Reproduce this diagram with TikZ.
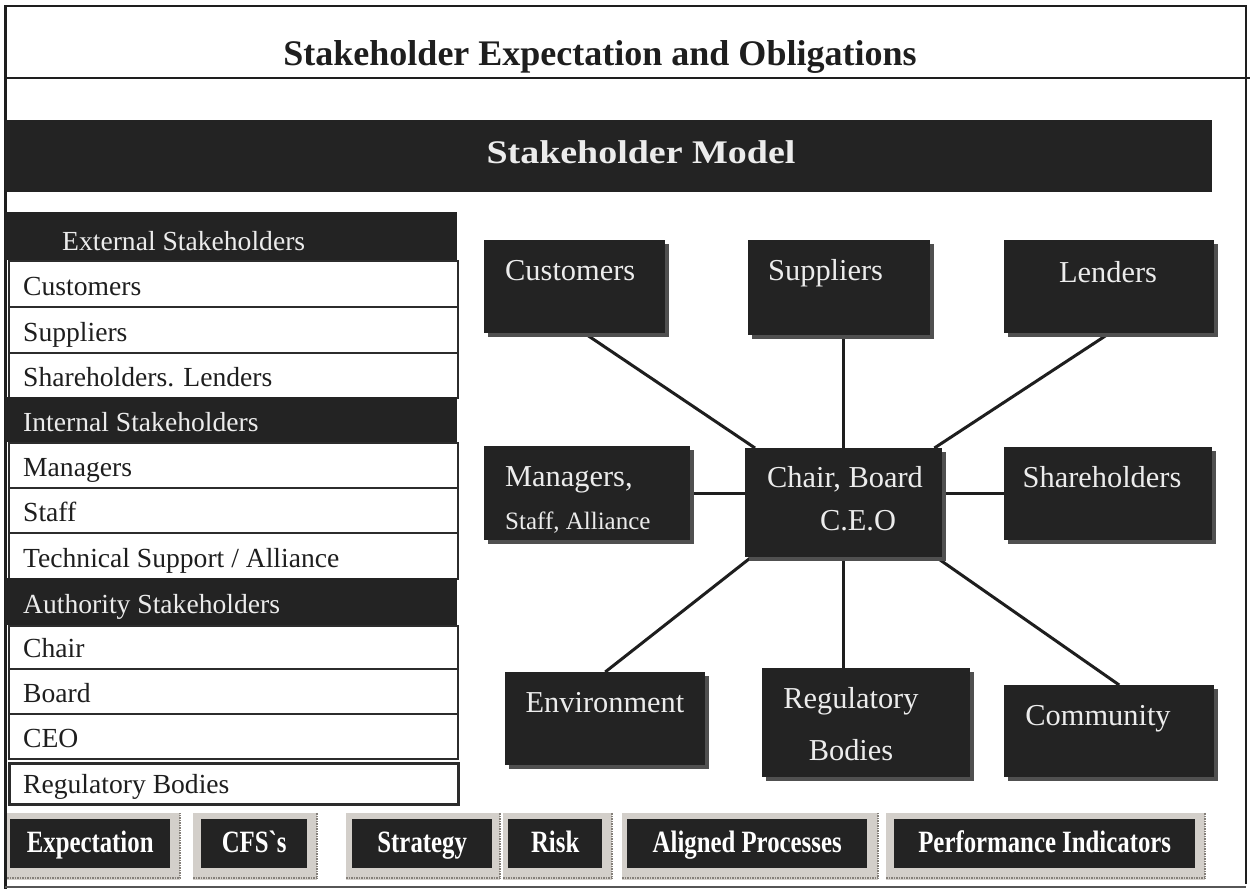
\documentclass[tikz,border=0pt]{standalone}
\usepackage{fontspec}
\setmainfont{Liberation Serif}
\newfontfamily\btnfont[FakeStretch=0.8]{Liberation Serif}
\newfontfamily\widefont[FakeStretch=1.15]{Liberation Serif}
\usetikzlibrary{backgrounds,shadows,calc}

\definecolor{ink}{HTML}{1E1E1E}
\definecolor{boxfill}{HTML}{232323}
\definecolor{boxshade}{HTML}{505050}
\definecolor{rule}{HTML}{2C2C2C}
\definecolor{bevel}{HTML}{D3CFCA}
\definecolor{bevelrim}{HTML}{85807A}
\definecolor{soft}{HTML}{ECECEC}

\newcommand{\setfs}[1]{\fontsize{#1}{#1}\selectfont}

\tikzset{
  darkbox/.style={fill=boxfill, draw=none, anchor=north west, inner sep=0pt,
    drop shadow={shadow xshift=4pt, shadow yshift=-4pt, fill=boxshade, opacity=1}},
  boxtext/.style={text=soft, font=\setfs{30.4}, inner sep=0pt},
  listrow/.style={fill=white, draw=rule, line width=1.5pt, anchor=north west,
    minimum width=449pt, inner sep=0pt},
  listhead/.style={fill=boxfill, draw=none, anchor=north west,
    minimum width=452pt, inner sep=0pt},
  listtext/.style={font=\setfs{27.6}, text=ink, anchor=base west, inner sep=0pt},
  headtext/.style={listtext, text=soft},
  conn/.style={draw=ink, line width=3pt},
  btn/.style={fill=boxfill, text=white, font=\btnfont\bfseries\setfs{31}, inner sep=0pt,
    anchor=north west, minimum height=49pt, text height=22pt, text depth=5pt},
}

% bevelled button: name, outer x1, outer x2, inner x1, inner x2, label
\newcommand{\stkbtn}[6]{%
  \fill[bevel] (#2,813) rectangle (#3,880);
  \draw[bevelrim, line width=2pt, dash pattern=on 1.5pt off 1pt] (#2,878) -- (#3,878) -- (#3,813);
  \node[btn, minimum width={(#5-#4)*1pt}] (#1) at (#4,819) {#6};
}

\begin{document}
\begin{tikzpicture}[x=1pt,y=-1pt]
\useasboundingbox (0,0) rectangle (1252,889);
\begin{pgfonlayer}{background}
  \fill[white] (0,0) rectangle (1252,889);
\end{pgfonlayer}

% outer frame and title band
\draw[ink, line width=3pt] (5,5) -- (5,889);
\draw[ink, line width=2pt] (5,6) -- (1246,6) -- (1246,884);
\draw[ink, line width=2pt] (5,78) -- (1250,78);
\draw[ink!75, line width=2pt] (5,887) -- (1246,887);

\node[font=\bfseries\setfs{36}, text=ink, anchor=base, inner sep=0pt] (title)
  at (600,65) {Stakeholder Expectation and Obligations};

% model banner
\node[fill=boxfill, anchor=north west, minimum width=1207pt, minimum height=72pt,
  inner sep=0pt] (banner) at (5,120) {};
\node[font=\widefont\bfseries\setfs{33}, text=soft, anchor=base, inner sep=0pt] (bannerT)
  at (641,163) {Stakeholder Model};

% stakeholder list
\node[listhead, minimum height=48pt] (hExt) at (5,212) {};
\node[headtext] (hExtT) at (62,250) {External Stakeholders};
\node[listrow, minimum height=46pt] (rCus) at (8,260) {};
\node[listtext] (rCusT) at (23,295) {Customers};
\node[listrow, minimum height=46pt] (rSup) at (8,306) {};
\node[listtext] (rSupT) at (23,341) {Suppliers};
\node[listrow, minimum height=45pt] (rShl) at (8,352) {};
\node[listtext] (rShlT) at (23,386) {Shareholders. Lenders};
\node[listhead, minimum height=45pt] (hInt) at (5,397) {};
\node[headtext] (hIntT) at (23,431) {Internal Stakeholders};
\node[listrow, minimum height=45pt] (rMgr) at (8,442) {};
\node[listtext] (rMgrT) at (23,476) {Managers};
\node[listrow, minimum height=45pt] (rStf) at (8,487) {};
\node[listtext] (rStfT) at (23,521) {Staff};
\node[listrow, minimum height=46pt] (rTec) at (8,532) {};
\node[listtext] (rTecT) at (23,567) {Technical Support / Alliance};
\node[listhead, minimum height=47pt] (hAut) at (5,578) {};
\node[headtext] (hAutT) at (23,613) {Authority Stakeholders};
\node[listrow, minimum height=43pt] (rCha) at (8,625) {};
\node[listtext] (rChaT) at (23,657) {Chair};
\node[listrow, minimum height=45pt] (rBrd) at (8,668) {};
\node[listtext] (rBrdT) at (23,702) {Board};
\node[listrow, minimum height=45pt] (rCeo) at (8,713) {};
\node[listtext] (rCeoT) at (23,747) {CEO};
\node[listrow, line width=2.5pt, minimum height=41pt] (rReg) at (8,762) {};
\node[listtext] (rRegT) at (23,793) {Regulatory Bodies};

% stakeholder map boxes
\node[darkbox, minimum width=181pt, minimum height=93pt] (cust) at (484,240) {};
\node[darkbox, minimum width=182pt, minimum height=95pt] (supp) at (748,240) {};
\node[darkbox, minimum width=210pt, minimum height=93pt] (lend) at (1004,240) {};
\node[darkbox, minimum width=206pt, minimum height=94pt] (mgr) at (484,446) {};
\node[darkbox, minimum width=197pt, minimum height=109pt] (chair) at (745,448) {};
\node[darkbox, minimum width=208pt, minimum height=93pt] (share) at (1004,447) {};
\node[darkbox, minimum width=200pt, minimum height=93pt] (env) at (505,672) {};
\node[darkbox, minimum width=208pt, minimum height=109pt] (reg) at (762,668) {};
\node[darkbox, minimum width=210pt, minimum height=92pt] (comm) at (1004,685) {};

\node[boxtext, anchor=base west] (custT) at (505,280) {Customers};
\node[boxtext, anchor=base west] (suppT) at (768,280) {Suppliers};
\node[boxtext, anchor=base] (lendT) at (1108,282) {Lenders};
\node[boxtext, anchor=base west] (mgrT) at (505,486) {Managers,};
\node[boxtext, anchor=base west, font=\setfs{25}] (mgrT2) at (505,529) {Staff, Alliance};
\node[boxtext, anchor=base] (chairT) at (845,487) {Chair, Board};
\node[boxtext, anchor=base] (chairT2) at (858,530) {C.E.O};
\node[boxtext, anchor=base] (shareT) at (1102,487) {Shareholders};
\node[boxtext, anchor=base] (envT) at (605,712) {Environment};
\node[boxtext, anchor=base] (regT) at (851,708) {Regulatory};
\node[boxtext, anchor=base] (regT2) at (851,760) {Bodies};
\node[boxtext, anchor=base] (commT) at (1098,725) {Community};

% connectors to the centre
\begin{pgfonlayer}{background}
  \draw[conn] ([xshift=10pt]cust.south) -- ([xshift=10pt]chair.north west);
  \draw[conn] (chair.north) -- (chair.north |- supp.south);
  \draw[conn] (lend.south) -- ([xshift=-8pt]chair.north east);
  \draw[conn] (mgr.east) -- (mgr.east -| chair.west);
  \draw[conn] (share.west) -- (share.west -| chair.east);
  \draw[conn] (env.north) -- ([xshift=6pt]chair.south west);
  \draw[conn] (chair.south) -- (chair.south |- reg.north);
  \draw[conn] ([xshift=10pt]comm.north) -- ([xshift=-6pt]chair.south east);
\end{pgfonlayer}

% bottom buttons
\stkbtn{bExp}{7}{180}{10}{170}{Expectation}
\stkbtn{bCfs}{193}{317}{201}{307}{CFS`s}
\stkbtn{bStr}{346}{500}{352}{492}{Strategy}
\stkbtn{bRsk}{503}{612}{508}{602}{Risk}
\stkbtn{bAln}{622}{878}{627}{867}{Aligned Processes}
\stkbtn{bPerf}{886}{1205}{894}{1195}{Performance Indicators}
\end{tikzpicture}
\end{document}
